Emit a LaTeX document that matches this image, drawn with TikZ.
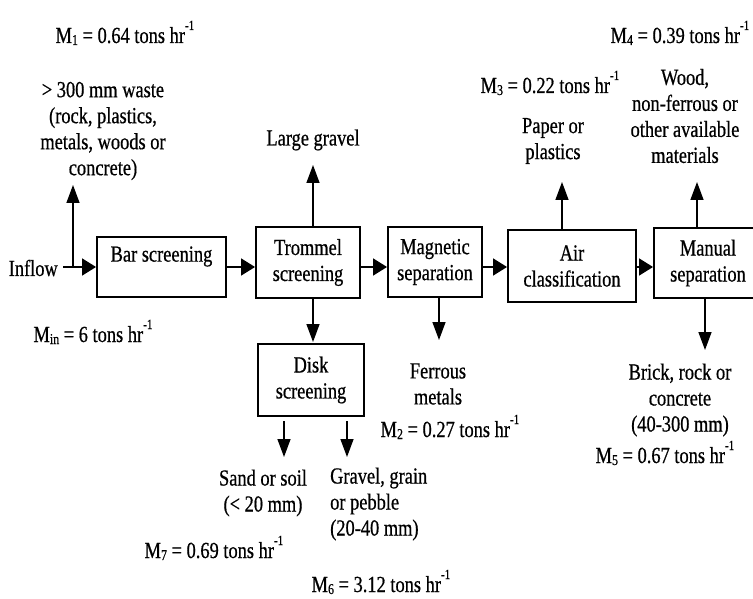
\documentclass[tikz,border=0pt]{standalone}
\usepackage{fontspec}
\setmainfont{Liberation Serif}[FakeStretch=0.8,FakeBold=0.6]
\usetikzlibrary{arrows.meta}
\newcommand{\hrinv}{hr\raisebox{13pt}{\fontsize{14}{14}\selectfont -1}}
\newcommand{\msub}[1]{M\raisebox{-2pt}{\fontsize{15}{15}\selectfont #1}}
\begin{document}
\begin{tikzpicture}[x=1pt,y=-1pt,
  font=\fontsize{23}{26}\selectfont,
  box/.style={draw,line width=1.9pt,inner sep=0pt,align=center},
  txt/.style={inner sep=0pt,align=center},
  harrow/.style={line width=1.5pt,-{Triangle[length=14pt,width=17pt]}},
  varrow/.style={line width=1.5pt,-{Triangle[length=18pt,width=13pt]}}]
\useasboundingbox (0,0) rectangle (753,599);
\clip (0,0) rectangle (753,599);

% process boxes
\node[box,minimum width=129pt,minimum height=60pt] (bar) at (161.5,267) {Bar screening\\\mbox{}};
\node[box,minimum width=104pt,minimum height=71pt] (tromm) at (308,262.5) {Trommel\\screening};
\node[box,minimum width=94pt,minimum height=70pt] (magn) at (435,262) {Magnetic\\separation};
\node[box,minimum width=128pt,minimum height=72pt] (air) at (572,266) {Air\\classification};
\node[box,minimum width=108pt,minimum height=70pt] (manual) at (708,263) {Manual\\separation};
\node[box,minimum width=106pt,minimum height=72pt] (disk) at (311,380) {Disk\\screening};

% texts
\node[txt,anchor=east] (inflow) at (58,268) {Inflow};
\node[txt] (waste) at (103,131) {> 300 mm waste\\(rock, plastics,\\metals, woods or\\concrete)};
\node[txt] (lgravel) at (313,140) {Large gravel};
\node[txt] (paper) at (553,141) {Paper or\\plastics};
\node[txt] (wood) at (685,116) {Wood,\\non-ferrous or\\other available\\materials};
\node[txt] (ferrous) at (438,384) {Ferrous\\metals};
\node[txt] (brick) at (680,400) {Brick, rock or\\concrete\\(40-300 mm)};
\node[txt] (sand) at (263,493) {Sand or soil\\(< 20 mm)};
\node[txt,align=left,anchor=west] (gravel) at (330,504) {Gravel, grain\\or pebble\\(20-40 mm)};

% mass flows
\node[txt,anchor=base] (m1) at (125,43) {\msub{1} = 0.64 tons \hrinv};
\node[txt,anchor=base] (m4) at (680,43) {\msub{4} = 0.39 tons \hrinv};
\node[txt,anchor=base] (m3) at (550,93) {\msub{3} = 0.22 tons \hrinv};
\node[txt,anchor=base] (min) at (93,342) {\msub{in} = 6 tons \hrinv};
\node[txt,anchor=base] (m2) at (450,437) {\msub{2} = 0.27 tons \hrinv};
\node[txt,anchor=base] (m5) at (665,463) {\msub{5} = 0.67 tons \hrinv};
\node[txt,anchor=base] (m7) at (214,558) {\msub{7} = 0.69 tons \hrinv};
\node[txt,anchor=base] (m6) at (381,592) {\msub{6} = 3.12 tons \hrinv};

% connector coordinates
\coordinate (instart) at (63,267);
\coordinate (split) at (73,267);
\coordinate (wtip) at (73,185);
\coordinate (lgtip) at (313,165);
\coordinate (tdown) at (313,342);
\coordinate (mtip) at (439,340);
\coordinate (atip) at (562,182);
\coordinate (mutip) at (697,182);
\coordinate (mdtip) at (705,350);
\coordinate (d1s) at (284,421);
\coordinate (d1t) at (284,457);
\coordinate (d2s) at (347,421);
\coordinate (d2t) at (347,457);

% main line
\draw[harrow] (instart) -- (bar.west |- instart);
\draw[varrow] (split) -- (wtip);
\draw[harrow] (bar.east |- instart) -- (tromm.west |- instart);
\draw[harrow] (tromm.east |- instart) -- (magn.west |- instart);
\draw[harrow] (magn.east |- instart) -- (air.west |- instart);
\draw[harrow] (air.east |- instart) -- (manual.west |- instart);

% branches
\draw[varrow] (tromm.north -| lgtip) -- (lgtip);
\draw[varrow] (tromm.south -| tdown) -- (tdown);
\draw[varrow] (magn.south -| mtip) -- (mtip);
\draw[varrow] (air.north -| atip) -- (atip);
\draw[varrow] (manual.north -| mutip) -- (mutip);
\draw[varrow] (manual.south -| mdtip) -- (mdtip);
\draw[varrow] (d1s) -- (d1t);
\draw[varrow] (d2s) -- (d2t);
\end{tikzpicture}
\end{document}
